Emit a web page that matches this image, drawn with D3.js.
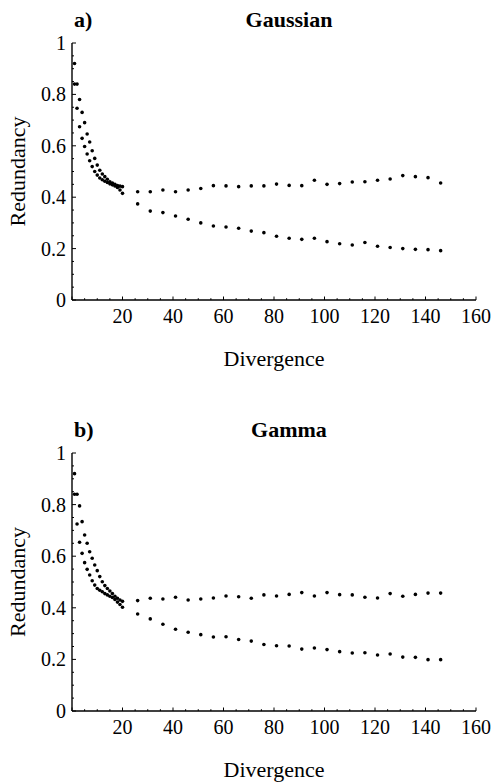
<!DOCTYPE html>
<html>
<head>
<meta charset="utf-8">
<script src="https://cdn.jsdelivr.net/npm/d3@7"></script>
<style>
  body { margin: 0; background: #fff; }
  svg { display: block; }
</style>
</head>
<body>
<svg id="chart" width="493" height="782"></svg>
<script>
// ---------- data ----------
const denseX  = [1,2,3,4,5,6,7,8,9,10,11,12,13,14,15,16,17,18,19,20];
const sparseX = [26,31,36,41,46,51,56,61,66,71,76,81,86,91,96,101,106,111,116,121,126,131,136,141,146];

const xTicks = [20,40,60,80,100,120,140,160];
const yTicks = [0,0.2,0.4,0.6,0.8,1];
const yTickLabels = ["0","0.2","0.4","0.6","0.8","1"];

// Gaussian (panel a)
const gaussUpperDense  = [0.92,0.84,0.78,0.73,0.69,0.646,0.615,0.581,0.551,0.525,0.505,0.49,0.48,0.47,0.46,0.455,0.45,0.445,0.443,0.441];
const gaussLowerDense  = [0.84,0.746,0.674,0.629,0.597,0.568,0.542,0.519,0.50,0.486,0.475,0.468,0.462,0.457,0.452,0.448,0.444,0.438,0.428,0.415];
const gaussUpperSparse = [0.421,0.421,0.428,0.421,0.428,0.434,0.445,0.444,0.441,0.444,0.444,0.451,0.446,0.445,0.466,0.450,0.453,0.459,0.460,0.466,0.471,0.484,0.480,0.476,0.455];
const gaussLowerSparse = [0.374,0.346,0.340,0.327,0.314,0.300,0.288,0.284,0.279,0.268,0.262,0.248,0.240,0.236,0.240,0.227,0.219,0.214,0.224,0.209,0.204,0.200,0.197,0.196,0.192];

// Gamma (panel b)
const gammaUpperDense  = [0.92,0.84,0.795,0.734,0.682,0.650,0.617,0.592,0.566,0.544,0.521,0.501,0.486,0.475,0.465,0.455,0.445,0.437,0.43,0.425];
const gammaLowerDense  = [0.84,0.725,0.654,0.611,0.575,0.549,0.527,0.505,0.488,0.475,0.468,0.462,0.455,0.45,0.445,0.44,0.432,0.422,0.413,0.402];
const gammaUpperSparse = [0.428,0.437,0.434,0.441,0.430,0.434,0.438,0.446,0.443,0.437,0.450,0.446,0.452,0.459,0.446,0.459,0.451,0.450,0.441,0.438,0.455,0.445,0.452,0.457,0.457];
const gammaLowerSparse = [0.376,0.357,0.336,0.317,0.305,0.296,0.287,0.288,0.277,0.271,0.258,0.253,0.252,0.240,0.244,0.238,0.230,0.225,0.226,0.217,0.221,0.209,0.208,0.199,0.199];

const panels = [
  { tag: "a)", title: "Gaussian", top: 43, bottom: 300,
    series: [[denseX, gaussUpperDense],[denseX, gaussLowerDense],[sparseX, gaussUpperSparse],[sparseX, gaussLowerSparse]] },
  { tag: "b)", title: "Gamma", top: 453, bottom: 711,
    series: [[denseX, gammaUpperDense],[denseX, gammaLowerDense],[sparseX, gammaUpperSparse],[sparseX, gammaLowerSparse]] }
];

const FONT = "'Liberation Serif', 'Times New Roman', Times, 'DejaVu Serif', 'Noto Serif', serif";

// ---------- drawing ----------
const svg = d3.select("#chart");
const x = d3.scaleLinear().domain([0,160]).range([72,476]);

panels.forEach(p => {
  const y = d3.scaleLinear().domain([0,1]).range([p.bottom, p.top]);
  const g = svg.append("g").attr("font-family", FONT).attr("fill", "#000");

  // axes lines
  g.append("line").attr("x1", x(0)).attr("x2", x(0)).attr("y1", y(0)).attr("y2", y(1))
    .attr("stroke", "#000").attr("stroke-width", 1.4);
  g.append("line").attr("x1", x(0)).attr("x2", x(160)).attr("y1", y(0)).attr("y2", y(0))
    .attr("stroke", "#000").attr("stroke-width", 1.4);

  // y ticks (inward)
  d3.range(0, 1.0001, 0.05).forEach(v => {
    const major = Math.abs(v * 5 - Math.round(v * 5)) < 1e-6;
    g.append("line").attr("x1", x(0)).attr("x2", x(0) + (major ? 4 : 2))
      .attr("y1", y(v)).attr("y2", y(v)).attr("stroke", "#000").attr("stroke-width", 1);
  });
  yTicks.forEach((v, i) => {
    g.append("text").attr("x", x(0) - 6).attr("y", y(v)).attr("dy", "0.35em")
      .attr("text-anchor", "end").attr("font-size", 20).text(yTickLabels[i]);
  });

  // x ticks (inward)
  d3.range(0, 160.001, 5).forEach(v => {
    const major = v % 20 === 0;
    g.append("line").attr("x1", x(v)).attr("x2", x(v))
      .attr("y1", y(0)).attr("y2", y(0) - (major ? 3.5 : 1.8)).attr("stroke", "#000").attr("stroke-width", 1);
  });
  xTicks.forEach(v => {
    g.append("text").attr("x", x(v)).attr("y", y(0) + 23)
      .attr("text-anchor", "middle").attr("font-size", 20).text(v);
  });

  // axis labels
  g.append("text").attr("x", 274).attr("y", y(0) + 66)
    .attr("text-anchor", "middle").attr("font-size", 22).text("Divergence");
  const cy = (y(0) + y(1)) / 2;
  g.append("text").attr("transform", `translate(25,${cy}) rotate(-90)`)
    .attr("text-anchor", "middle").attr("font-size", 22).text("Redundancy");

  // titles
  g.append("text").attr("x", 74).attr("y", y(1) - 16)
    .attr("font-size", 22).attr("font-weight", "bold").text(p.tag);
  g.append("text").attr("x", 289).attr("y", y(1) - 16)
    .attr("text-anchor", "middle").attr("font-size", 22).attr("font-weight", "bold").text(p.title);

  // points
  p.series.forEach(([xs, ys]) => {
    g.selectAll(null).data(ys).enter().append("circle")
      .attr("cx", (d, i) => x(xs[i])).attr("cy", d => y(d))
      .attr("r", 1.8).attr("fill", "#000");
  });
});
</script>
</body>
</html>
